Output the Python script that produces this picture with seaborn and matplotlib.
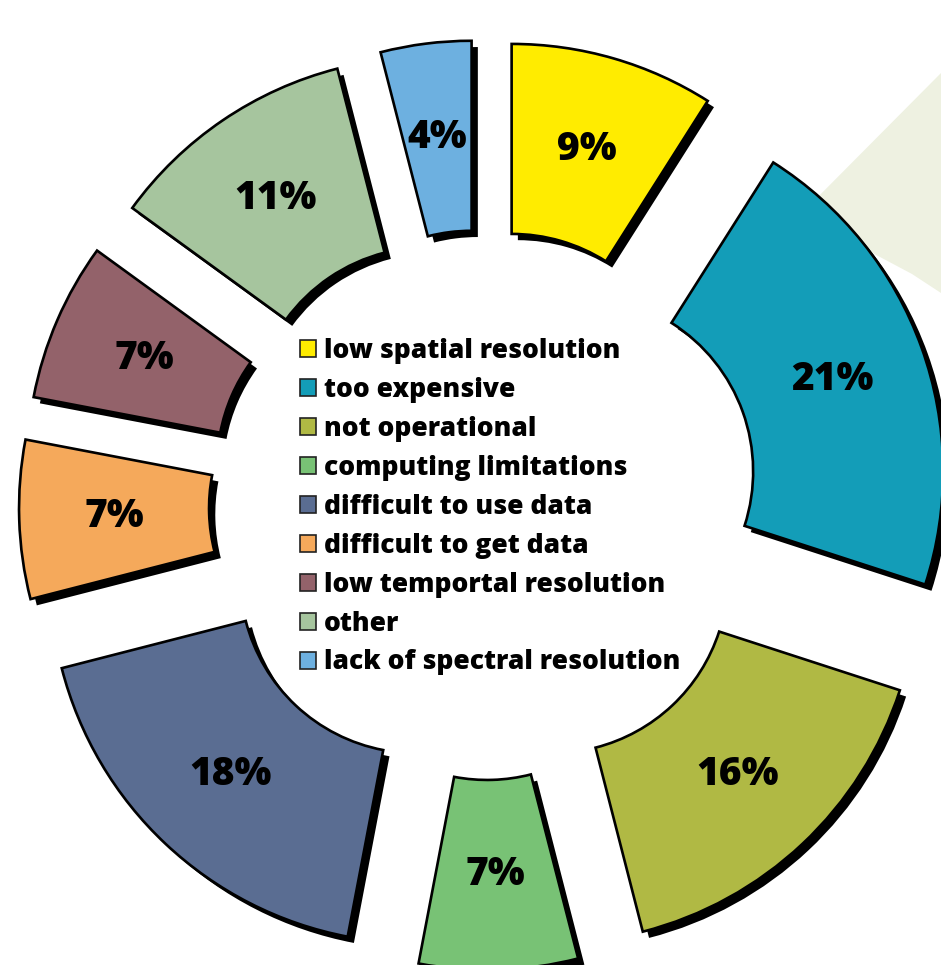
import matplotlib
matplotlib.use("Agg")
import matplotlib.pyplot as plt
import matplotlib.patheffects as pe
from matplotlib.patches import Patch, Polygon
import seaborn as sns

# Reasons given for not using the imagery (share of responses, %)
categories = [
    "low spatial resolution",
    "too expensive",
    "not operational",
    "computing limitations",
    "difficult to use data",
    "difficult to get data",
    "low temportal resolution",
    "other",
    "lack of spectral resolution",
]
shares = [9, 21, 16, 7, 18, 7, 7, 11, 4]
colors = [
    "#FFEC00",
    "#139DB8",
    "#B0B944",
    "#78C275",
    "#5A6D92",
    "#F5A95B",
    "#93626A",
    "#A6C59E",
    "#6DB0E0",
]

sns.set_theme(style="white")
plt.rcParams["font.family"] = ["Open Sans", "DejaVu Sans"]

W, H = 941, 965
fig = plt.figure(figsize=(W / 100, H / 100), dpi=100)
ax = fig.add_axes([0, 0, 1, 1])

palette = sns.color_palette(colors)

# pale backdrop band in the top-right corner
backdrop = Polygon(
    [(941, H - 73), (800, H - 215), (880, H - 257), (912, H - 274), (941, H - 293)],
    closed=True, facecolor="#EEF1E1", edgecolor="none", zorder=0,
)
ax.add_patch(backdrop)

outer_r = 366
ring_w = 190
wedges, texts, autotexts = ax.pie(
    shares,
    colors=palette,
    startangle=90,
    counterclock=False,
    radius=outer_r,
    center=(484, H - 505),
    explode=[99] * len(shares),
    autopct=lambda p: f"{round(p)}%",
    pctdistance=(outer_r - ring_w / 2) / outer_r,
    wedgeprops=dict(width=ring_w, edgecolor="black", linewidth=1.9),
    textprops=dict(fontsize=28, fontweight="heavy", color="black"),
)
for w in wedges:
    w.set_path_effects([
        pe.SimplePatchShadow(offset=(4.5, -4.5), shadow_rgbFace="black", alpha=1.0),
        pe.Normal(),
    ])
    w.set_zorder(2)
for t in autotexts:
    t.set_zorder(3)

ax.set_xlim(0, W)
ax.set_ylim(0, H)
ax.set_aspect("auto")
ax.axis("off")

handles = [Patch(facecolor=c, edgecolor="#222222", linewidth=1.2) for c in palette]
leg = ax.legend(
    handles, categories,
    loc="upper left",
    bbox_to_anchor=(300 / W, 1 - 338 / H),
    bbox_transform=fig.transFigure,
    frameon=False,
    borderpad=0,
    borderaxespad=0,
    handlelength=0.6,
    handleheight=0.6,
    handletextpad=0.3,
    labelspacing=0.49,
    prop=dict(family=["Open Sans", "DejaVu Sans"], weight="heavy", size=19),
)
for t in leg.get_texts():
    t.set_color("black")

fig.savefig("out.png", dpi=100, facecolor="white")
